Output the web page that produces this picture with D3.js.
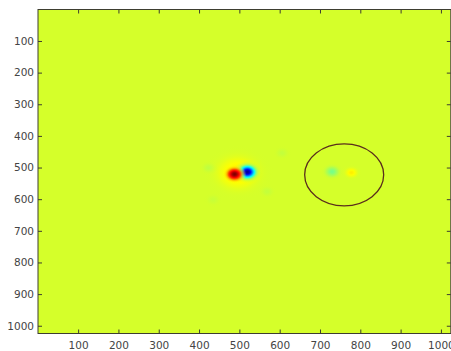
<!DOCTYPE html>
<html><head><meta charset="utf-8">
<script src="https://cdn.jsdelivr.net/npm/d3@7"></script>
<style>body{margin:0;background:#fff} svg{display:block}</style>
</head><body>
<script>
// Tick labels
const xTicks = [100, 200, 300, 400, 500, 600, 700, 800, 900, 1000];
const yTicks = [100, 200, 300, 400, 500, 600, 700, 800, 900, 1000];
// Image extent (pixels of the 1024x1024 field)
const imgExtent = [0.5, 1024.5];
// Colour limits of the field
const colorLimits = [-1.4, 1.0];
// Features of the field (centre, peak value, spread)
const blobX     = [496, 423, 606, 569, 435, 520, 488, 730, 778];
const blobY     = [517, 501, 454, 576, 602, 514, 521, 513, 516];
const blobPeak  = [0.16, -0.05, -0.04, -0.04, -0.03, -1.35, 1.0, -0.22, 0.14];
const blobSigma = [30, 8, 8, 8, 8, 12, 13, 10, 9];
// Fade of each feature's drawn edge (start, end, as fraction of 3 spreads)
const blobFadeStart = [0.5, 0.5, 0.5, 0.5, 0.5, 0.5, 0.4, 0.5, 0.5];
const blobFadeEnd   = [1.0, 1.0, 1.0, 1.0, 1.0, 1.0, 0.75, 1.0, 1.0];
// Marked region (circle in data units)
const ringX = [760];
const ringY = [523];
const ringR = [98];

const W = 451, H = 351;
const svg = d3.select("body").append("svg").attr("width", W).attr("height", H);
const x = d3.scaleLinear().domain(imgExtent).range([38, 450.8]);
const y = d3.scaleLinear().domain(imgExtent).range([9.5, 333.5]);

// MATLAB jet colormap
const jet = d3.scaleLinear()
  .domain([0, 0.125, 0.375, 0.625, 0.875, 1])
  .range(["#000080", "#0000ff", "#00ffff", "#ffff00", "#ff0000", "#800000"])
  .interpolate(d3.interpolateRgb).clamp(true);
const tScale = d3.scaleLinear().domain(colorLimits).range([0, 1]).clamp(true);
const color = v => jet(tScale(v));

const defs = svg.append("defs");
defs.append("clipPath").attr("id", "plotClip").append("rect")
  .attr("x", x(imgExtent[0])).attr("y", y(imgExtent[0]))
  .attr("width", x(imgExtent[1]) - x(imgExtent[0]))
  .attr("height", y(imgExtent[1]) - y(imgExtent[0]));

const plot = svg.append("g").attr("clip-path", "url(#plotClip)");
plot.append("rect")
  .attr("x", x(imgExtent[0])).attr("y", y(imgExtent[0]))
  .attr("width", x(imgExtent[1]) - x(imgExtent[0]))
  .attr("height", y(imgExtent[1]) - y(imgExtent[0]))
  .attr("fill", color(0));

const blobs = blobX.map((bx, i) => ({x: bx, y: blobY[i], peak: blobPeak[i], sigma: blobSigma[i],
  f0: blobFadeStart[i], f1: blobFadeEnd[i]}));
const fracs = d3.range(0, 1.0001, 0.05);
blobs.forEach((b, i) => {
  const g = defs.append("radialGradient").attr("id", "blob" + i);
  fracs.forEach(f => {
    const r = f * 3;
    const v = b.peak * Math.exp(-r * r / 2);
    const op = f < b.f0 ? 1 : Math.max(0, 1 - (f - b.f0) / (b.f1 - b.f0));
    g.append("stop").attr("offset", f).attr("stop-color", color(v)).attr("stop-opacity", op);
  });
});
plot.selectAll("ellipse.blob").data(blobs).join("ellipse")
  .attr("class", "blob")
  .attr("cx", d => x(d.x)).attr("cy", d => y(d.y))
  .attr("rx", d => x(d.x + 3 * d.sigma) - x(d.x))
  .attr("ry", d => y(d.y + 3 * d.sigma) - y(d.y))
  .attr("fill", (d, i) => "url(#blob" + i + ")");

const rings = ringX.map((rx, i) => ({x: rx, y: ringY[i], r: ringR[i]}));
plot.selectAll("ellipse.ring").data(rings).join("ellipse")
  .attr("class", "ring")
  .attr("cx", d => x(d.x)).attr("cy", d => y(d.y))
  .attr("rx", d => x(d.x + d.r) - x(d.x))
  .attr("ry", d => y(d.y + d.r) - y(d.y))
  .attr("fill", "none").attr("stroke", "#5a2e1c").attr("stroke-width", 1.3);

// Axes
const font = "DejaVu Sans";
const axisColor = "#3e3e30";
const fmt = d3.format("d");
function style(g) {
  g.select(".domain").remove();
  g.selectAll(".tick line").attr("stroke", axisColor);
  g.selectAll("text").attr("fill", "#444").attr("font-family", font).attr("font-size", "10.5px");
}
svg.append("g").attr("transform", `translate(0,${y(imgExtent[1])})`)
  .call(d3.axisBottom(x).tickValues(xTicks).tickFormat(fmt).tickSize(-4).tickPadding(8)).call(style);
svg.append("g").attr("transform", `translate(0,${y(imgExtent[0])})`)
  .call(d3.axisTop(x).tickValues(xTicks).tickSize(-4).tickFormat("")).call(style);
svg.append("g").attr("transform", `translate(${x(imgExtent[0])},0)`)
  .call(d3.axisLeft(y).tickValues(yTicks).tickFormat(fmt).tickSize(-4).tickPadding(4)).call(style);
svg.append("g").attr("transform", `translate(${x(imgExtent[1])},0)`)
  .call(d3.axisRight(y).tickValues(yTicks).tickSize(-4).tickFormat("")).call(style);

svg.append("rect")
  .attr("x", x(imgExtent[0])).attr("y", y(imgExtent[0]))
  .attr("width", x(imgExtent[1]) - x(imgExtent[0]))
  .attr("height", y(imgExtent[1]) - y(imgExtent[0]))
  .attr("fill", "none").attr("stroke", axisColor).attr("stroke-width", 1);
</script>
</body></html>
